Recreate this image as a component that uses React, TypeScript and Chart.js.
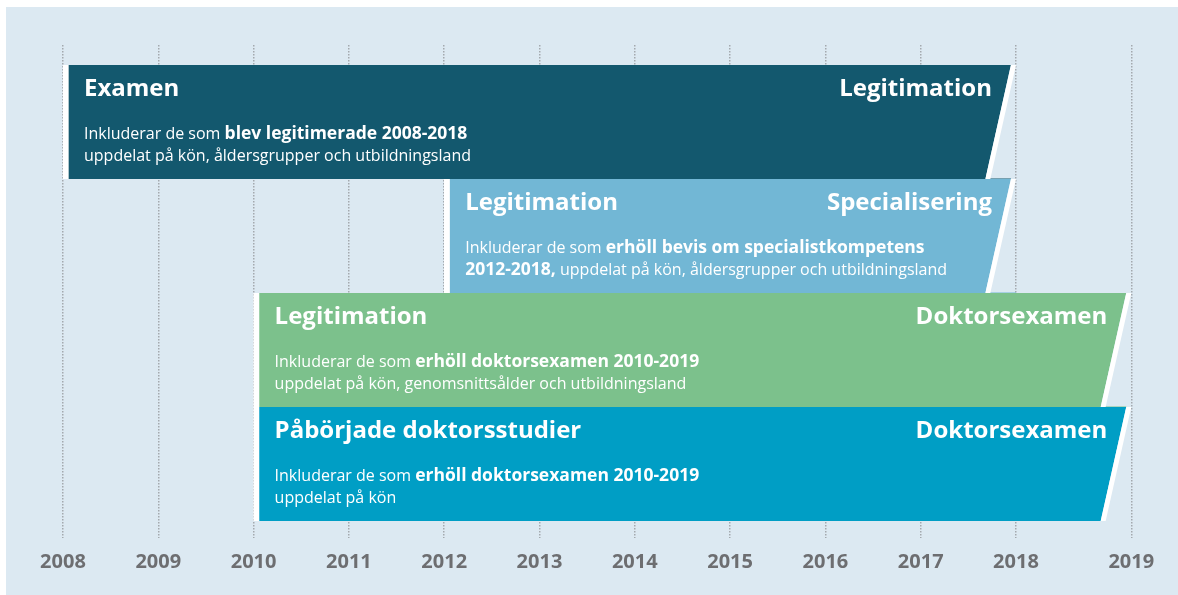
import { useEffect, useRef } from 'react';
import { Chart, registerables } from 'chart.js';

Chart.register(...registerables);

// ---- data ----
const tickYears = [2008, 2009, 2010, 2011, 2012, 2013, 2014, 2015, 2016, 2017, 2018, 2019];
// In the source the last interval (2018-2019) is drawn wider than the others
const lastIntervalStretch = 1.21;

const startLabels = ['Examen', 'Legitimation', 'Legitimation', 'Påbörjade doktorsstudier'];
const endLabels = ['Legitimation', 'Specialisering', 'Doktorsexamen', 'Doktorsexamen'];
const startYears = [2008, 2012, 2010, 2010];
const endYears = [2018, 2018, 2019, 2019];
const barColors = ['#13586e', '#72b7d5', '#7cc18c', '#009ec5'];

type Seg = [string, boolean];
const descLine1: Seg[][] = [
  [['Inkluderar de som ', false], ['blev legitimerade 2008-2018', true]],
  [['Inkluderar de som ', false], ['erhöll bevis om specialistkompetens', true]],
  [['Inkluderar de som ', false], ['erhöll doktorsexamen 2010-2019', true]],
  [['Inkluderar de som ', false], ['erhöll doktorsexamen 2010-2019', true]],
];
const descLine2: Seg[][] = [
  [['uppdelat på kön, åldersgrupper och utbildningsland', false]],
  [['2012-2018,', true], [' uppdelat på kön, åldersgrupper och utbildningsland', false]],
  [['uppdelat på kön, genomsnittsålder och utbildningsland', false]],
  [['uppdelat på kön', false]],
];

const axisPos = (year: number) => (year <= 2018 ? year : 2018 + (year - 2018) * lastIntervalStretch);

const X_MIN = 2007.339;
const X_MAX = 2019.7;
const Y_MIN = -0.6754;
const Y_MAX = 3.649;

const BG = '#dce9f2';
const FONT = '"Open Sans", "DejaVu Sans", sans-serif';
const SLANT = 0.225;
const GAP = 5;

const drawSegs = (ctx: CanvasRenderingContext2D, segs: Seg[], x: number, y: number) => {
  let cx = x;
  segs.forEach(([t, b]) => {
    ctx.font = b ? `bold 17.5px ${FONT}` : `16px ${FONT}`;
    ctx.fillText(t, cx, y);
    cx += ctx.measureText(t).width;
  });
};

const timelinePlugin = {
  id: 'timeline',
  beforeDatasetsDraw(chart: any) {
    const ctx = chart.ctx;
    const meta = chart.getDatasetMeta(0);
    ctx.save();
    ctx.beginPath();
    meta.data.forEach((el: any) => {
      const { x, y, base, height } = el.getProps(['x', 'y', 'base', 'height'], true);
      const top = y - height / 2;
      const bottom = y + height / 2;
      const s = height * SLANT;
      ctx.moveTo(base - 1, top - 0.5);
      ctx.lineTo(x - GAP, top - 0.5);
      ctx.lineTo(x - GAP - s, bottom + 0.5);
      ctx.lineTo(base - 1, bottom + 0.5);
      ctx.closePath();
    });
    ctx.clip();
  },
  afterDatasetsDraw(chart: any) {
    const ctx = chart.ctx;
    ctx.restore();
    const meta = chart.getDatasetMeta(0);
    meta.data.forEach((el: any, i: number) => {
      const { x, y, base, height } = el.getProps(['x', 'y', 'base', 'height'], true);
      const top = y - height / 2;
      const bottom = y + height / 2;
      const s = height * SLANT;
      // white slanted end band
      ctx.save();
      ctx.fillStyle = '#ffffff';
      ctx.beginPath();
      ctx.moveTo(x - GAP, top);
      ctx.lineTo(x, top);
      ctx.lineTo(x - s, bottom);
      ctx.lineTo(x - GAP - s, bottom);
      ctx.closePath();
      ctx.fill();
      // texts
      ctx.fillStyle = '#ffffff';
      ctx.textBaseline = 'middle';
      ctx.font = `bold 24px ${FONT}`;
      ctx.textAlign = 'left';
      ctx.fillText(startLabels[i], base + 21, top + 24);
      ctx.textAlign = 'right';
      ctx.fillText(endLabels[i], x - 24, top + 24);
      ctx.textAlign = 'left';
      drawSegs(ctx, descLine1[i], base + 21, top + 69);
      drawSegs(ctx, descLine2[i], base + 21, top + 91);
      ctx.restore();
    });
  },
};

export default function App() {
  const ref = useRef<HTMLCanvasElement | null>(null);
  useEffect(() => {
    if (!ref.current) return;
    const chart = new Chart(ref.current, {
      type: 'bar',
      data: {
        datasets: [
          {
            data: startYears.map((s, i) => ({ x: [axisPos(s), axisPos(endYears[i])], y: i })) as any,
            backgroundColor: barColors,
            borderColor: '#ffffff',
            borderWidth: { left: 6, right: 0, top: 0, bottom: 0 } as any,
            borderSkipped: false,
            barPercentage: 1,
            categoryPercentage: 1,
          },
        ],
      },
      options: {
        indexAxis: 'y',
        responsive: false,
        animation: false,
        events: [],
        layout: { padding: { top: 45, bottom: 9, left: 0, right: 0 } },
        plugins: { legend: { display: false }, tooltip: { enabled: false } },
        scales: {
          x: {
            type: 'linear',
            min: X_MIN,
            max: X_MAX,
            offset: false,
            afterBuildTicks: (scale: any) => {
              scale.ticks = tickYears.map((yv) => ({ value: axisPos(yv) }));
            },
            grid: { color: '#a3a9ae', lineWidth: 1.5, drawTicks: false, offset: false },
            border: { display: false, dash: [1.5, 1.5] },
            ticks: {
              autoSkip: false,
              maxRotation: 0,
              padding: 12,
              color: '#6d6e71',
              font: { family: FONT, weight: 'bold', size: 20, lineHeight: 1.2 },
              callback: (_v: any, idx: number) => String(tickYears[idx]),
            },
          },
          y: {
            type: 'linear',
            reverse: true,
            min: Y_MIN,
            max: Y_MAX,
            offset: false,
            display: false,
            grid: { offset: false },
            afterBuildTicks: (scale: any) => {
              scale.ticks = startLabels.map((_l, i) => ({ value: i }));
            },
          },
        },
      },
      plugins: [timelinePlugin],
    });
    return () => chart.destroy();
  }, []);

  return (
    <div style={{ position: 'absolute', left: 0, top: 0, width: 1178, height: 595, background: '#ffffff' }}>
      <div style={{ position: 'absolute', left: 6, top: 7, width: 1172, height: 588, background: BG }} />
      <canvas ref={ref} width={1178} height={595} style={{ position: 'absolute', left: 0, top: 0 }} />
    </div>
  );
}
